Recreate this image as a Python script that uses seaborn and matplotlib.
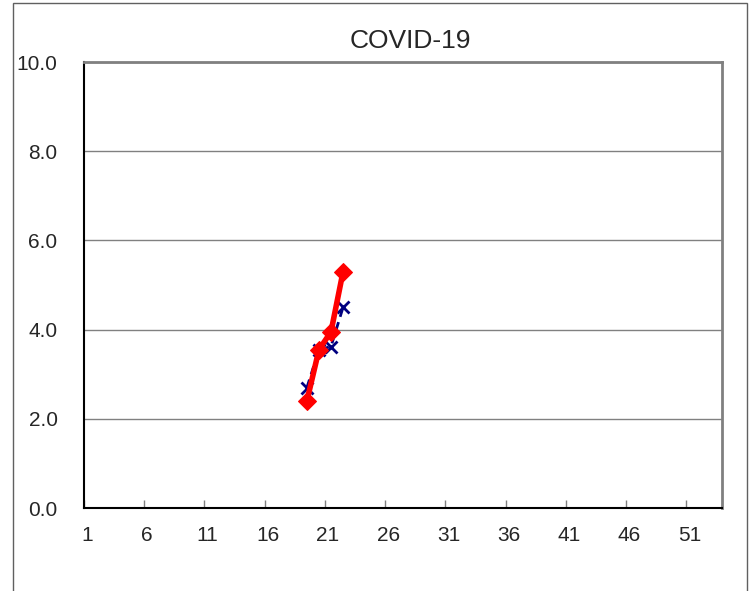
import matplotlib
matplotlib.use("Agg")
import matplotlib.pyplot as plt
import matplotlib.transforms as mtransforms
import seaborn as sns
import pandas as pd
from matplotlib.patches import Rectangle

weeks_blue = [19, 20, 21, 22]
values_blue = [2.7, 3.55, 3.62, 4.5]
weeks_red = [19, 20, 21, 22]
values_red = [2.4, 3.55, 3.95, 5.3]
xtick_labels = [1, 6, 11, 16, 21, 26, 31, 36, 41, 46, 51]
yticks = [0, 2, 4, 6, 8, 10]
title = "COVID-19"

sns.set_theme(style="white")
plt.rcParams['font.family'] = ['Liberation Sans', 'DejaVu Sans']

fig = plt.figure(figsize=(7.56, 5.91), dpi=100)
ax = fig.add_axes([84/756, 1-508/591, (722-84)/756, (508-62)/591])

df_b = pd.DataFrame({"week": weeks_blue, "value": values_blue})
df_r = pd.DataFrame({"week": weeks_red, "value": values_red})

sns.lineplot(data=df_b, x="week", y="value", ax=ax, color="#000080",
             linestyle=(0, (3, 2)), linewidth=2, marker="x", markersize=9,
             markeredgewidth=2, markeredgecolor="#000080")
sns.lineplot(data=df_r, x="week", y="value", ax=ax, color="#ff0000",
             linewidth=4, marker="D", markersize=9, markeredgecolor="#ff0000")

# category axis: categories centred between boundaries
ax.set_xlim(0.5, 53.45)
ax.set_xticks([t - 0.5 for t in xtick_labels])
ax.set_xticklabels([str(t) for t in xtick_labels])
ax.set_ylim(0, 10)
ax.set_yticks(yticks)
ax.set_yticklabels([f"{t:.1f}" for t in yticks])
ax.set_xlabel("")
ax.set_ylabel("")
ax.yaxis.grid(True, color="#808080", linewidth=1)
ax.xaxis.grid(False)
ax.tick_params(axis="x", direction="in", length=6, width=1, color="#808080",
               pad=13, labelsize=15, bottom=True)
ax.tick_params(axis="y", length=0, pad=19, labelsize=15)
offset = mtransforms.ScaledTranslation(3/100, 0, fig.dpi_scale_trans)
for lbl in ax.get_xticklabels():
    lbl.set_transform(lbl.get_transform() + offset)
for s in ["top", "right"]:
    ax.spines[s].set_color("#808080")
    ax.spines[s].set_linewidth(2)
for s in ["left", "bottom"]:
    ax.spines[s].set_color("black")
    ax.spines[s].set_linewidth(1.5)
ax.set_title(title, fontsize=19, pad=10, x=0.512)

fig.patches.append(Rectangle((13/756, -0.02), (747-13)/756, 1.02 - 3/591,
                             transform=fig.transFigure, fill=False,
                             edgecolor="#606060", linewidth=1))

fig.savefig("out.png", dpi=100)
